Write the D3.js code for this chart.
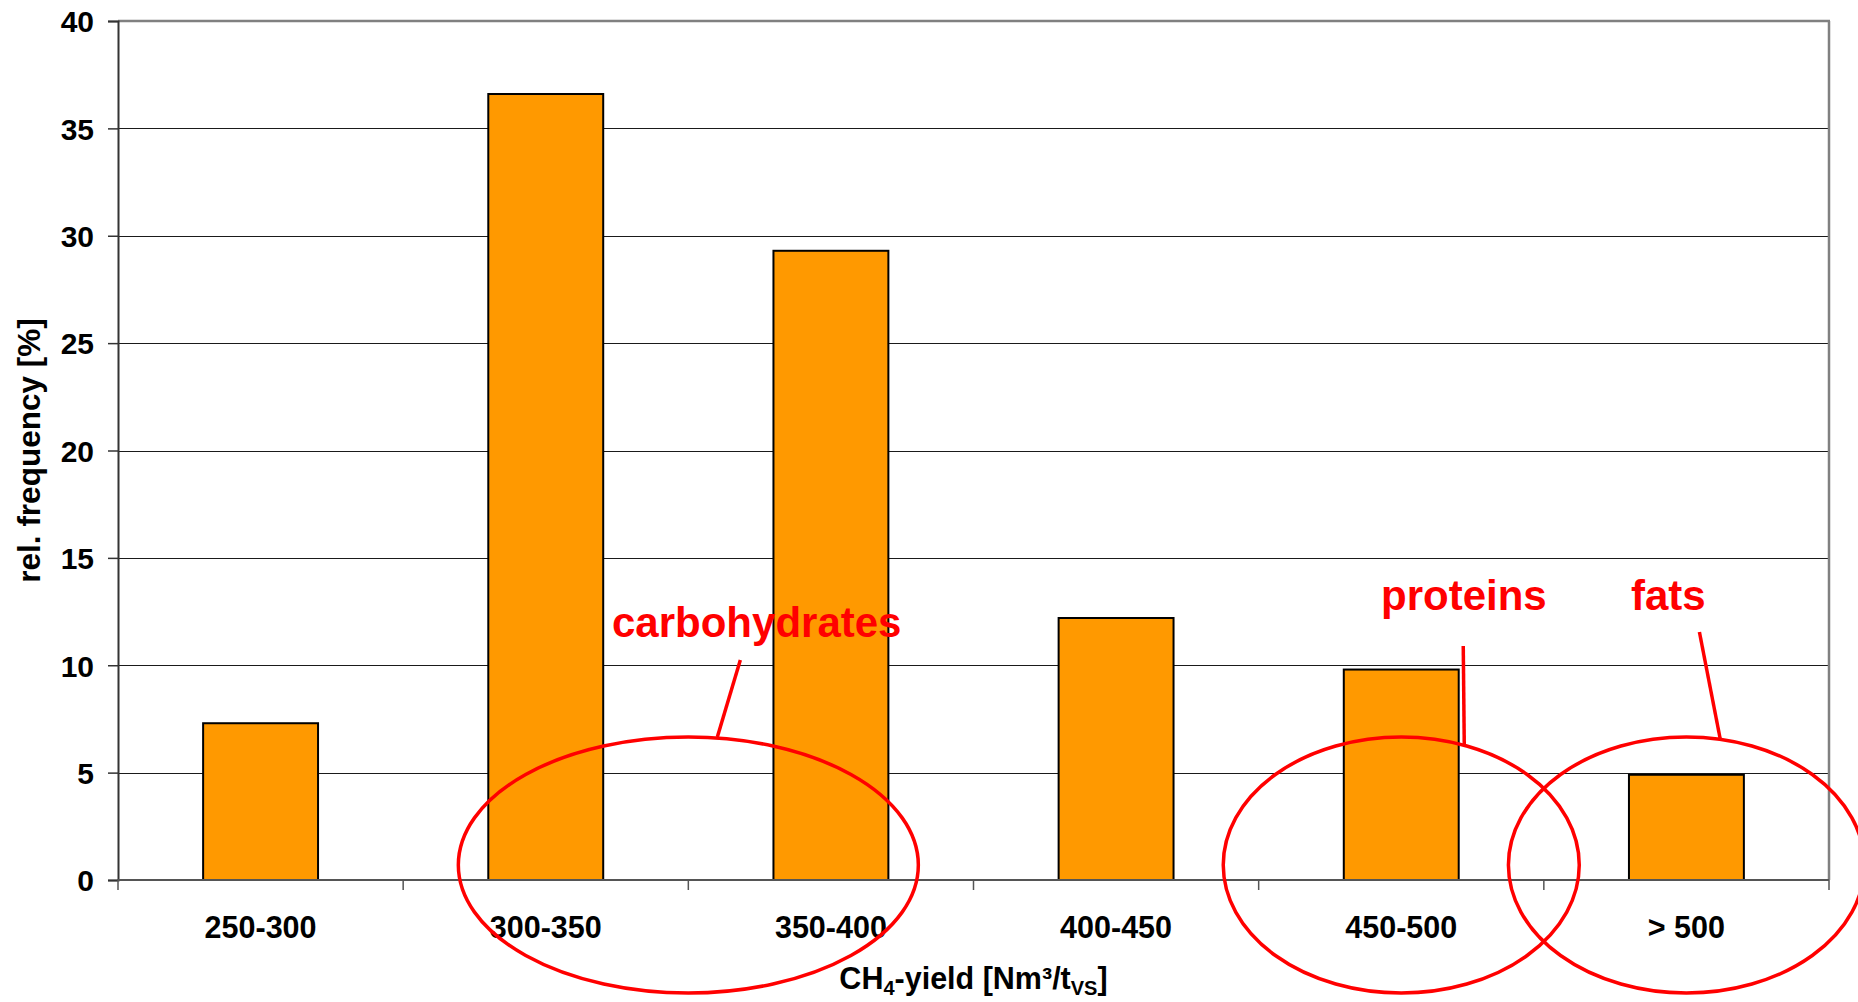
<!DOCTYPE html>
<html>
<head>
<meta charset="utf-8">
<script src="https://cdn.jsdelivr.net/npm/d3@7"></script>
<style>
  html, body { margin: 0; padding: 0; background: #fff; }
  svg { display: block; font-family: "Liberation Sans", Arial, sans-serif; font-weight: bold; }
</style>
</head>
<body>
<svg id="chart" width="1858" height="1002"></svg>
<script>
const categories = ["250-300", "300-350", "350-400", "400-450", "450-500", "> 500"];
const frequency = [7.3, 36.6, 29.3, 12.2, 9.8, 4.9];
const yTicks = [0, 5, 10, 15, 20, 25, 30, 35, 40];
const annotations = [
  { label: "carbohydrates", at: 2.0 },
  { label: "proteins", at: 4.5 },
  { label: "fats", at: 5.5 }
];

(function () {
const svg = d3.select("#chart");
const pLeft = 118, pRight = 1829, pTop = 21, pBottom = 880;

const x = d3.scaleBand().domain(categories).range([pLeft, pRight]).padding(0);
const y = d3.scaleLinear().domain([0, 40]).range([pBottom, pTop]);
const step = x.step();
const barW = step * 0.403;
const xPos = v => pLeft + v * step;

// gridlines
svg.append("g").selectAll("line").data(yTicks.filter(t => t > 0 && t < 40)).join("line")
  .attr("x1", pLeft).attr("x2", pRight)
  .attr("y1", d => Math.round(y(d)) + 0.5).attr("y2", d => Math.round(y(d)) + 0.5)
  .attr("stroke", "#1a1a1a").attr("stroke-width", 1);

// top & right border
svg.append("line").attr("x1", pLeft).attr("x2", pRight + 1).attr("y1", y(40)).attr("y2", y(40))
  .attr("stroke", "#808080").attr("stroke-width", 2.5);
svg.append("line").attr("x1", pRight).attr("x2", pRight).attr("y1", y(40)).attr("y2", pBottom)
  .attr("stroke", "#808080").attr("stroke-width", 2.5);

// bars
svg.append("g").selectAll("rect").data(frequency).join("rect")
  .attr("x", (d, i) => x(categories[i]) + (step - barW) / 2)
  .attr("width", barW)
  .attr("y", d => y(d))
  .attr("height", d => y(0) - y(d))
  .attr("fill", "#FF9900")
  .attr("stroke", "#000")
  .attr("stroke-width", 2);

// y axis
const yAxis = d3.axisLeft(y).tickValues(yTicks).tickSize(10).tickPadding(14);
const gy = svg.append("g").attr("transform", `translate(${pLeft},0)`).call(yAxis);
gy.select(".domain").attr("stroke", "#333").attr("stroke-width", 2);
gy.selectAll(".tick line").attr("stroke", "#333").attr("stroke-width", 1.5);
gy.selectAll(".tick text").attr("font-size", 30).attr("font-family", "Liberation Sans, Arial, sans-serif")
  .attr("font-weight", "bold").attr("fill", "#000").attr("dy", "0.36em");

// x axis with ticks at category boundaries
const boundaries = d3.range(categories.length + 1).map(i => pLeft + i * step);
const gx = svg.append("g");
gx.append("line").attr("x1", pLeft).attr("x2", pRight).attr("y1", pBottom).attr("y2", pBottom)
  .attr("stroke", "#555").attr("stroke-width", 2);
gx.selectAll("line.tk").data(boundaries).join("line").attr("class", "tk")
  .attr("x1", d => d).attr("x2", d => d).attr("y1", pBottom).attr("y2", pBottom + 10)
  .attr("stroke", "#555").attr("stroke-width", 1.5);
gx.selectAll("text").data(categories).join("text")
  .attr("x", d => x(d) + step / 2).attr("y", 938)
  .attr("text-anchor", "middle").attr("font-size", 30.5).attr("fill", "#000")
  .text(d => d);

// axis titles
const xt = svg.append("text").attr("x", (pLeft + pRight) / 2).attr("y", 989)
  .attr("text-anchor", "middle").attr("font-size", 30.5).attr("fill", "#000");
xt.append("tspan").text("CH");
xt.append("tspan").attr("font-size", 20).attr("dy", 6).text("4");
xt.append("tspan").attr("dy", -6).text("-yield [Nm³/t");
xt.append("tspan").attr("font-size", 20).attr("dy", 6).text("VS");
xt.append("tspan").attr("dy", -6).text("]");

svg.append("text").attr("transform", `translate(40,${(pTop + pBottom) / 2}) rotate(-90)`)
  .attr("text-anchor", "middle").attr("font-size", 31.5).attr("fill", "#000")
  .text("rel. frequency [%]");

// annotations
const red = "#FF0000";
const ellipses = [
  { at: annotations[0].at, rx: 230, ry: 128 },
  { at: annotations[1].at, rx: 178, ry: 128 },
  { at: annotations[2].at, rx: 178, ry: 128 }
];
svg.append("g").selectAll("ellipse").data(ellipses).join("ellipse")
  .attr("cx", d => xPos(d.at)).attr("cy", y(0) - 15)
  .attr("rx", d => d.rx).attr("ry", d => d.ry)
  .attr("fill", "none").attr("stroke", red).attr("stroke-width", 3.5);

const leaders = [
  { x1: xPos(2.0) + 52, y1: 660, x2: xPos(2.0) + 29, y2: 737 },
  { x1: xPos(4.5) + 62, y1: 646, x2: xPos(4.5) + 63, y2: 744 },
  { x1: xPos(5.5) + 13, y1: 632, x2: xPos(5.5) + 34, y2: 740 }
];
svg.append("g").selectAll("line").data(leaders).join("line")
  .attr("x1", d => d.x1).attr("y1", d => d.y1).attr("x2", d => d.x2).attr("y2", d => d.y2)
  .attr("stroke", red).attr("stroke-width", 3.5);

const labelPos = [
  { x: 612, y: 637 },
  { x: 1381, y: 610 },
  { x: 1631, y: 610 }
];
svg.append("g").selectAll("text").data(annotations).join("text")
  .attr("x", (d, i) => labelPos[i].x).attr("y", (d, i) => labelPos[i].y)
  .attr("font-size", 42).attr("fill", red)
  .text(d => d.label);
})();
</script>
</body>
</html>
